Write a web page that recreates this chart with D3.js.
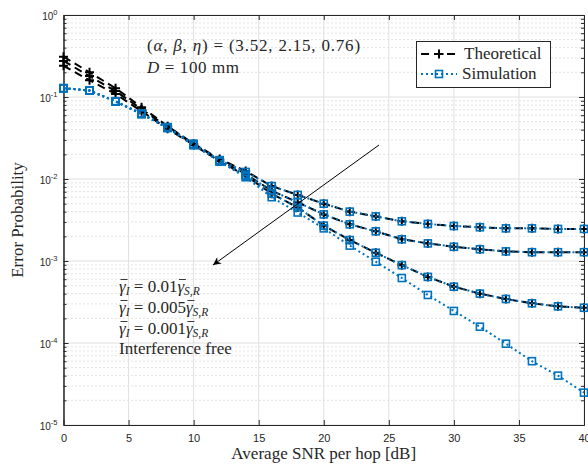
<!DOCTYPE html>
<html lang="en">
<head>
<meta charset="UTF-8">
<title>Error Probability vs SNR</title>
<script src="https://d3js.org/d3.v7.min.js"></script>
<style>
  body { margin: 0; background: #fff; }
  .serif { font-family: "Liberation Serif", "DejaVu Serif", serif; fill: #262626; }
  .tick text { font-family: "Liberation Sans", Arial, sans-serif; }
</style>
</head>
<body>
<svg id="chart" width="588" height="465"></svg>
<script>
// SNR per hop [dB]
const snr = [0, 2, 4, 6, 8, 10, 12, 14, 16, 18, 20, 22, 24, 26, 28, 30, 32, 34, 36, 38, 40];

// theoretical curves (interference level relative to gamma_SR)
const theo01  = [0.31, 0.20, 0.128, 0.075, 0.044, 0.027, 0.0175, 0.0125, 0.0082, 0.0064, 0.0050, 0.0040, 0.0035, 0.00305, 0.00283, 0.00267, 0.00258, 0.00250, 0.00250, 0.00246, 0.00246];
const theo005 = [0.275, 0.18, 0.118, 0.071, 0.043, 0.0265, 0.0170, 0.0115, 0.0072, 0.0052, 0.0037, 0.0028, 0.0023, 0.00184, 0.00164, 0.00149, 0.00139, 0.00131, 0.00128, 0.00128, 0.00128];
const theo001 = [0.24, 0.16, 0.109, 0.067, 0.041, 0.026, 0.0165, 0.0110, 0.0066, 0.0045, 0.0027, 0.0018, 0.00126, 0.00089, 0.00064, 0.000486, 0.00040, 0.000344, 0.000305, 0.00028, 0.000269];

// simulation curves
const sim01   = [0.128, 0.12, 0.089, 0.063, 0.043, 0.027, 0.0170, 0.0122, 0.0082, 0.0064, 0.0050, 0.0040, 0.0035, 0.00305, 0.00283, 0.00267, 0.00258, 0.00250, 0.00250, 0.00246, 0.00246];
const sim005  = [0.128, 0.12, 0.088, 0.062, 0.042, 0.026, 0.0166, 0.0113, 0.0072, 0.0052, 0.0037, 0.0028, 0.0023, 0.00184, 0.00164, 0.00149, 0.00139, 0.00131, 0.00128, 0.00128, 0.00128];
const sim001  = [0.128, 0.12, 0.088, 0.062, 0.042, 0.026, 0.0164, 0.0108, 0.0066, 0.0045, 0.0027, 0.0018, 0.00126, 0.00089, 0.00064, 0.000486, 0.00040, 0.000344, 0.000305, 0.00028, 0.000269];
const simFree = [0.128, 0.12, 0.088, 0.062, 0.042, 0.026, 0.0163, 0.0105, 0.0060, 0.0039, 0.0025, 0.00154, 0.00098, 0.00062, 0.000385, 0.000246, 0.000158, 0.000098, 0.000060, 0.000040, 0.0000248];

const xTicks = [0, 5, 10, 15, 20, 25, 30, 35, 40];
const yTicks = [1e-5, 1e-4, 1e-3, 1e-2, 1e-1, 1];

const svg = d3.select("#chart");
const pL = 63.5, pR = 584, pT = 15, pB = 425;
const blue = "#0072BD", dark = "#262626";
const fs = 17;

let x = d3.scaleLinear().domain([0, 40]).range([pL, pR]);
let y = d3.scaleLog().domain([1e-5, 1]).range([pB, pT]);

// minor y values 2..9 per decade
let minor = [];
yTicks.slice(0, -1).forEach(d => { for (let k = 2; k <= 9; k++) minor.push(d * k); });

// grid
let grid = svg.append("g");
grid.selectAll(".mg").data(minor).enter().append("line")
    .attr("x1", pL).attr("x2", pR)
    .attr("y1", d => y(d)).attr("y2", d => y(d))
    .attr("stroke", "#c4c4c4").attr("stroke-width", 1).attr("stroke-dasharray", "1,3");
grid.selectAll(".vx").data(xTicks).enter().append("line")
    .attr("x1", d => x(d)).attr("x2", d => x(d))
    .attr("y1", pT).attr("y2", pB)
    .attr("stroke", "#e0e0e0").attr("stroke-width", 1);
grid.selectAll(".hy").data(yTicks).enter().append("line")
    .attr("x1", pL).attr("x2", pR)
    .attr("y1", d => y(d)).attr("y2", d => y(d))
    .attr("stroke", "#e0e0e0").attr("stroke-width", 1);

// axes (ticks point inward)
function styleAxis(g) {
    g.select(".domain").attr("stroke", dark);
    g.selectAll(".tick line").attr("stroke", dark);
    g.selectAll(".tick text").attr("fill", dark).attr("font-size", 11);
}
svg.append("g").attr("transform", `translate(0,${pB})`)
    .call(d3.axisBottom(x).tickValues(xTicks).tickSize(-5).tickSizeOuter(0).tickPadding(9))
    .call(styleAxis);
svg.append("g").attr("transform", `translate(0,${pT})`)
    .call(d3.axisTop(x).tickValues(xTicks).tickSize(-5).tickSizeOuter(0).tickFormat(""))
    .call(styleAxis);
svg.append("g").attr("transform", `translate(${pL},0)`)
    .call(d3.axisLeft(y).tickValues(yTicks).tickSize(-5).tickSizeOuter(0).tickFormat(""))
    .call(styleAxis);
svg.append("g").attr("transform", `translate(${pR},0)`)
    .call(d3.axisRight(y).tickValues(yTicks).tickSize(-5).tickSizeOuter(0).tickFormat(""))
    .call(styleAxis);
svg.append("g").attr("transform", `translate(${pL},0)`)
    .call(d3.axisLeft(y).tickValues(minor).tickSize(-3).tickSizeOuter(0).tickFormat(""))
    .call(styleAxis);
svg.append("g").attr("transform", `translate(${pR},0)`)
    .call(d3.axisRight(y).tickValues(minor).tickSize(-3).tickSizeOuter(0).tickFormat(""))
    .call(styleAxis);

// y tick labels 10^n
let yl = svg.append("g");
yTicks.forEach(d => {
    let e = Math.round(Math.log10(d));
    let t = yl.append("text").attr("x", pL - 6).attr("y", y(d) + 5)
        .attr("text-anchor", "end").attr("fill", dark)
        .attr("font-family", "Liberation Sans, Arial, sans-serif").attr("font-size", 10);
    t.append("tspan").text("10");
    t.append("tspan").attr("dy", -5).attr("font-size", 7.5).text(String(e));
});

// lines
let line = d3.line().x((d, i) => x(snr[i])).y(d => y(d));
let theo = [theo01, theo005, theo001];
let sims = [sim01, sim005, sim001, simFree];

let plot = svg.append("g");
theo.forEach(s => {
    plot.append("path").datum(s).attr("d", line)
        .attr("fill", "none").attr("stroke", "black").attr("stroke-width", 2)
        .attr("stroke-dasharray", "8,5");
    plot.selectAll(null).data(s).enter().append("path")
        .attr("transform", (d, i) => `translate(${x(snr[i])},${y(d)})`)
        .attr("d", "M-4.5,0H4.5M0,-4.5V4.5")
        .attr("stroke", "black").attr("stroke-width", 2);
});
sims.forEach(s => {
    plot.append("path").datum(s).attr("d", line)
        .attr("fill", "none").attr("stroke", blue).attr("stroke-width", 2)
        .attr("stroke-dasharray", "2,3");
    plot.selectAll(null).data(s).enter().append("rect")
        .attr("x", (d, i) => x(snr[i]) - 3.5).attr("y", d => y(d) - 3.5)
        .attr("width", 7).attr("height", 7)
        .attr("fill", "none").attr("stroke", blue).attr("stroke-width", 1.6);
});

// axis labels
svg.append("text").attr("class", "serif").attr("x", (pL + pR) / 2).attr("y", 459)
    .attr("text-anchor", "middle").attr("font-size", fs).text("Average SNR per hop [dB]");
svg.append("text").attr("class", "serif")
    .attr("transform", `translate(23,${(pT + pB) / 2}) rotate(-90)`)
    .attr("text-anchor", "middle").attr("font-size", fs).text("Error Probability");

// parameter annotation
let p = svg.append("text").attr("class", "serif").attr("x", 147).attr("y", 51).attr("font-size", fs)
    .attr("letter-spacing", 0.8);
p.append("tspan").text("(");
p.append("tspan").attr("font-style", "italic").text("α");
p.append("tspan").text(", ");
p.append("tspan").attr("font-style", "italic").text("β");
p.append("tspan").text(", ");
p.append("tspan").attr("font-style", "italic").text("η");
p.append("tspan").text(") = (3.52, 2.15, 0.76)");
let q = svg.append("text").attr("class", "serif").attr("x", 147).attr("y", 73).attr("font-size", fs)
    .attr("letter-spacing", 0.6);
q.append("tspan").attr("font-style", "italic").text("D");
q.append("tspan").text(" = 100 mm");

// arrow
svg.append("defs").append("marker").attr("id", "ah")
    .attr("viewBox", "0 0 10 10").attr("refX", 10).attr("refY", 5)
    .attr("markerWidth", 12).attr("markerHeight", 8).attr("markerUnits", "userSpaceOnUse")
    .attr("orient", "auto")
    .append("path").attr("d", "M0,0L10,5L0,10L3,5Z").attr("fill", "black");
svg.append("line").attr("x1", 379).attr("y1", 145).attr("x2", 213).attr("y2", 265)
    .attr("stroke", "black").attr("stroke-width", 1).attr("marker-end", "url(#ah)");

// interference labels, gamma bars drawn from the glyph boxes
const labels = ["0.01", "0.005", "0.001"];
let bars = svg.append("g");
labels.forEach((v, i) => {
    let t = svg.append("text").attr("class", "serif").attr("x", 119).attr("y", 292 + i * 21).attr("font-size", fs);
    let g1 = t.append("tspan").attr("font-style", "italic").text("γ");
    t.append("tspan").attr("font-style", "italic").attr("font-size", 11.5).attr("dy", 3).text("I");
    t.append("tspan").attr("dy", -3).text(" = " + v);
    let g2 = t.append("tspan").attr("font-style", "italic").text("γ");
    t.append("tspan").attr("font-style", "italic").attr("font-size", 11.5).attr("dy", 3).text("S,R");
    [g1, g2].forEach(g => {
        let b = g.node().getBBox();
        bars.append("line").attr("x1", b.x + 1.5).attr("x2", b.x + b.width + 0.5)
            .attr("y1", 292 + i * 21 - 12.5).attr("y2", 292 + i * 21 - 12.5)
            .attr("stroke", dark).attr("stroke-width", 0.9);
    });
});
svg.append("text").attr("class", "serif").attr("x", 119).attr("y", 354).attr("font-size", fs).text("Interference free");

// legend
let lg = svg.append("g");
lg.append("rect").attr("x", 416.5).attr("y", 41.5).attr("width", 134).attr("height", 46)
    .attr("fill", "white").attr("stroke", dark).attr("stroke-width", 1);
lg.append("line").attr("x1", 421).attr("x2", 457).attr("y1", 54).attr("y2", 54)
    .attr("stroke", "black").attr("stroke-width", 2).attr("stroke-dasharray", "8,5");
lg.append("path").attr("d", "M434.5,54H443.5M439,49.5V58.5").attr("stroke", "black").attr("stroke-width", 2);
lg.append("text").attr("class", "serif").attr("x", 464).attr("y", 59).attr("font-size", fs).text("Theoretical");
lg.append("line").attr("x1", 421).attr("x2", 457).attr("y1", 74).attr("y2", 74)
    .attr("stroke", blue).attr("stroke-width", 2).attr("stroke-dasharray", "2,3");
lg.append("rect").attr("x", 435.5).attr("y", 70.5).attr("width", 7).attr("height", 7)
    .attr("fill", "none").attr("stroke", blue).attr("stroke-width", 1.6);
lg.append("text").attr("class", "serif").attr("x", 462).attr("y", 79).attr("font-size", fs).text("Simulation");
</script>
</body>
</html>
